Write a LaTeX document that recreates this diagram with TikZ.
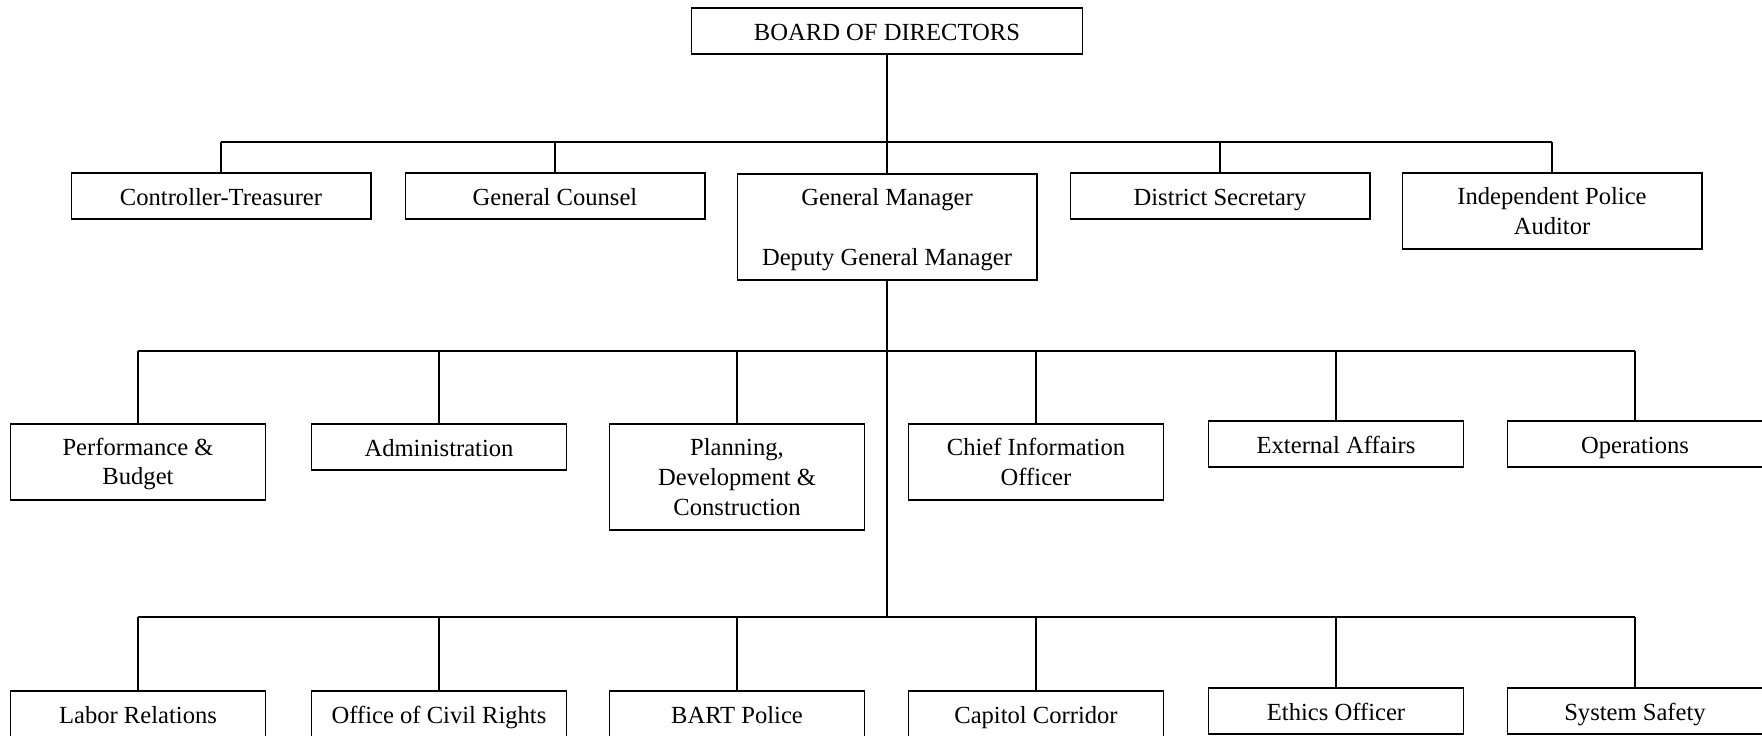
\documentclass[tikz,border=0pt]{standalone}
\usepackage{fontspec}
\setmainfont{Liberation Serif}
\usepackage{tikz}
\tikzset{
  unit/.style={
    rectangle,
    draw=black,
    line width=0.6pt,
    fill=white,
    align=center,
    inner sep=0pt,
    font=\orgfont
  },
  wide/.style={unit, minimum width=6cm},
  narrow/.style={unit, minimum width=5.1cm},
  line1/.style={minimum height=0.92cm, text height=11pt, text depth=0.7pt},
  line2/.style={minimum height=1.52cm},
  line3/.style={minimum height=2.12cm},
  link/.style={draw=black, line width=0.6pt}
}
\newcommand\orgfont{\fontsize{14}{17}\selectfont}

\begin{document}
\begin{tikzpicture}[x=0.02cm, y=-0.02cm]
    \useasboundingbox (0,0) rectangle (1762,736);
    \node[unit, line1, minimum width=7.82cm] (board) at (887, 31) {BOARD OF DIRECTORS};

    \node[wide, line1] (ctrl) at (221, 196) {Controller-Treasurer};
    \node[wide, line1] (counsel) at (555, 196) {General Counsel};
    \node[wide, line3] (gm) at (887, 227) {\rule{0pt}{12.2pt}General Manager\\[17.2pt]Deputy General Manager};
    \node[wide, line1] (secretary) at (1220, 196) {District Secretary};
    \node[wide, line2] (auditor) at (1552, 211) {Independent Police\\Auditor};

    \node[narrow, line2] (budget) at (138, 462) {\rule{0pt}{12.2pt}Performance \&\\Budget};
    \node[narrow, line1] (admin) at (439, 447) {Administration};
    \node[narrow, line3] (planning) at (737, 477) {Planning,\\Development \&\\Construction};
    \node[narrow, line2] (cio) at (1036, 462) {Chief Information\\Officer};
    \node[narrow, line1] (external) at (1336, 444) {External Affairs};
    \node[narrow, line1] (operations) at (1635, 444) {Operations};

    \node[narrow, line1] (labor) at (138, 714) {Labor Relations};
    \node[narrow, line1] (civil) at (439, 714) {Office of Civil Rights};
    \node[narrow, line1] (police) at (737, 714) {BART Police};
    \node[narrow, line1] (capitol) at (1036, 714) {Capitol Corridor};
    \node[narrow, line1] (ethics) at (1336, 711) {Ethics Officer};
    \node[narrow, line1] (safety) at (1635, 711) {System Safety};

    \coordinate (bus1) at (887, 142);
    \coordinate (bus2) at (887, 351);
    \coordinate (bus3) at (887, 617);

    \draw[link] (board.south) -- (bus1);
    \draw[link] (bus1 -| ctrl.north) -- (bus1 -| auditor.north);
    \foreach \n in {ctrl, counsel, gm, secretary, auditor}
        \draw[link] (bus1 -| \n.north) -- (\n.north);

    \draw[link] (gm.south) -- (gm.south |- bus3);
    \draw[link] (bus2 -| budget.north) -- (bus2 -| operations.north);
    \foreach \n in {budget, admin, planning, cio, external, operations}
        \draw[link] (bus2 -| \n.north) -- (\n.north);

    \draw[link] (bus3 -| labor.north) -- (bus3 -| safety.north);
    \foreach \n in {labor, civil, police, capitol, ethics, safety}
        \draw[link] (bus3 -| \n.north) -- (\n.north);
\end{tikzpicture}
\end{document}
